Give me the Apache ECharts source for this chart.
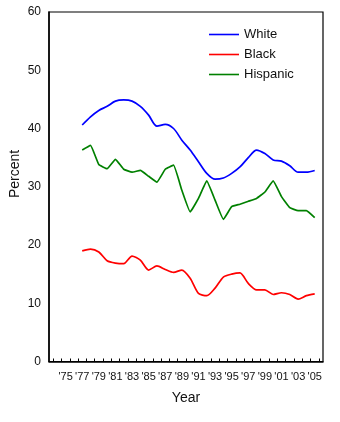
<!DOCTYPE html>
<html>
<head>
<meta charset="utf-8">
<script src="https://cdn.jsdelivr.net/npm/echarts@6/dist/echarts.min.js"></script>
<style>
html,body{margin:0;padding:0;background:#fff;}
#c{width:340px;height:422px;}
</style>
</head>
<body>
<div id="c"></div>
<script>
const years = [1977,1978,1979,1980,1981,1982,1983,1984,1985,1986,1987,1988,1989,1990,1991,1992,1993,1994,1995,1996,1997,1998,1999,2000,2001,2002,2003,2004,2005];
const white = [40.6,42.0,43.1,43.8,44.7,44.9,44.7,43.8,42.3,40.4,40.7,40.0,38.0,36.3,34.3,32.3,31.3,31.5,32.3,33.4,35.0,36.3,35.7,34.6,34.4,33.6,32.5,32.5,32.8];
const black = [19.0,19.3,18.8,17.3,16.9,16.8,18.1,17.4,15.7,16.4,15.8,15.3,15.7,14.3,11.7,11.3,12.6,14.5,15.0,15.2,13.4,12.3,12.3,11.5,11.8,11.5,10.7,11.3,11.6];
const hispanic = [36.3,37.1,33.8,33.1,34.7,33.0,32.5,32.8,31.8,30.8,33.0,33.7,29.4,25.7,28.0,31.0,27.7,24.4,26.6,27.0,27.5,28.0,29.1,31.0,28.3,26.4,25.9,25.9,24.7];
const xLabelYears = [1975,1977,1979,1981,1983,1985,1987,1989,1991,1993,1995,1997,1999,2001,2003,2005];
const xTickYears = [1973.5,1974.5,1975.5,1976.5,1977.5,1978.5,1979.5,1980.5,1981.5,1982.5,1983.5,1984.5,1985.5,1986.5,1987.5,1988.5,1989.5,1990.5,1991.5,1992.5,1993.5,1994.5,1995.5,1996.5,1997.5,1998.5,1999.5,2000.5,2001.5,2002.5,2003.5,2004.5,2005.5];
const seriesNames = ['White','Black','Hispanic'];

const font = 'Liberation Sans, Arial, sans-serif';
const chart = echarts.init(document.getElementById('c'), null, {renderer:'canvas'});
const mk = (name, vals, color, smooth) => ({
  name, type:'line', data: years.map((y,i)=>[y, vals[i]]),
  smooth, symbol:'none', showSymbol:false,
  lineStyle:{color, width:1.7}, itemStyle:{color}
});
chart.setOption({
  animation:false,
  backgroundColor:'#fff',
  grid:{left:49, right:17, top:12, bottom:60.5, show:true, borderColor:'#000', borderWidth:1.2, containLabel:false},
  legend:{
    orient:'vertical', left:204, top:22, itemWidth:30, itemHeight:1.6, itemGap:5,
    icon:'rect',
    data:seriesNames,
    textStyle:{fontFamily:font, fontSize:13, color:'#111', lineHeight:15}
  },
  xAxis:{
    type:'value', min:1973, max:2006,
    axisLine:{show:true, lineStyle:{color:'#000', width:1.5}},
    axisTick:{show:true, inside:true, length:3, customValues:xTickYears, lineStyle:{color:'#000', width:1}},
    axisLabel:{customValues:xLabelYears, margin:10, fontFamily:'Liberation Sans Narrow, Liberation Sans, Arial', fontSize:11, color:'#111',
      formatter:v=>"'"+String(v).slice(2)},
    splitLine:{show:false}
  },
  yAxis:{
    type:'value', min:0, max:60, interval:10,
    axisLine:{show:true, lineStyle:{color:'#000', width:1.5}},
    axisTick:{show:false},
    axisLabel:{margin:8, fontFamily:font, fontSize:12, color:'#111'},
    splitLine:{show:false}
  },
  graphic:[
    {type:'text', style:{text:'Percent', fontFamily:font, fontSize:14, fill:'#111', textAlign:'center', textVerticalAlign:'middle'}, x:15, y:174, rotation:Math.PI/2},
    {type:'text', style:{text:'Year', fontFamily:font, fontSize:14, fill:'#111', textAlign:'center', textVerticalAlign:'middle'}, x:186, y:398}
  ],
  series:[
    mk('White', white, '#0000ff', 0.3),
    mk('Black', black, '#ff0000', 0.25),
    mk('Hispanic', hispanic, '#008000', 0.1)
  ]
});
</script>
</body>
</html>
